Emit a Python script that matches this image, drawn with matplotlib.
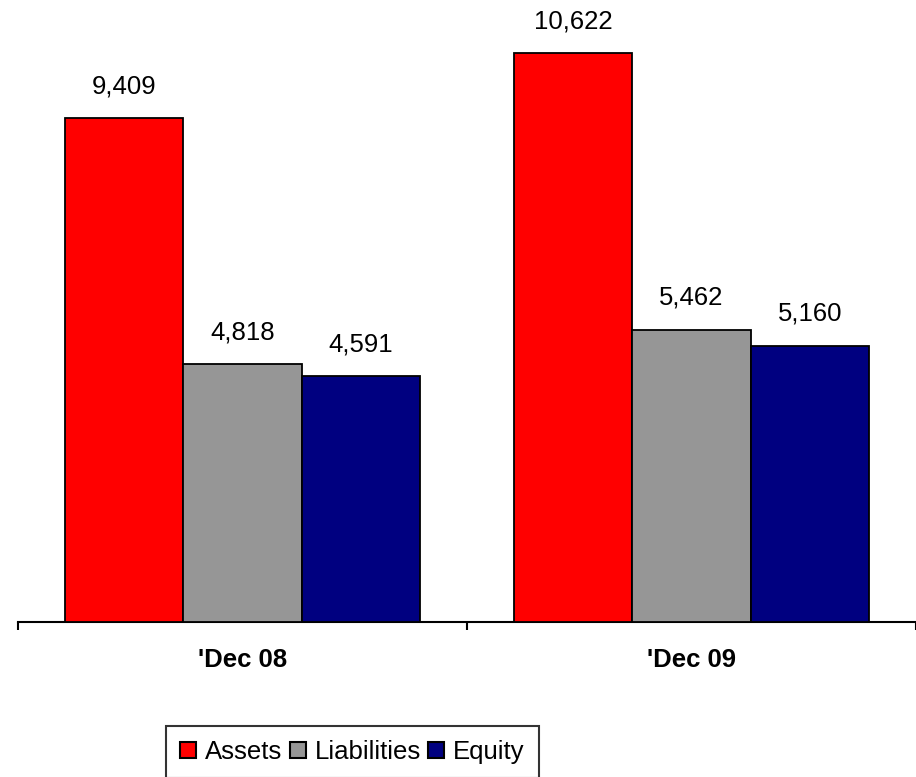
import matplotlib.pyplot as plt
from matplotlib.patches import Patch
import numpy as np

plt.rcParams['font.family'] = ['Liberation Sans', 'DejaVu Sans']

# data
periods = ["'Dec 08", "'Dec 09"]
series = ['Assets', 'Liabilities', 'Equity']
assets = [9409, 10622]
liabilities = [4818, 5462]
equity = [4591, 5160]
colors = ['#FF0000', '#969696', '#000080']

W, H = 916, 777
fig = plt.figure(figsize=(W / 100, H / 100), dpi=100)
ax = fig.add_axes([18 / W, 155 / H, 898 / W, 622 / H])

x = np.arange(len(periods))
bw = 0.264
for i, (vals, c) in enumerate(zip([assets, liabilities, equity], colors)):
    bars = ax.bar(x + (i - 1) * bw, vals, width=bw, color=c,
                  edgecolor='black', linewidth=1.3, zorder=3)
    for b, v in zip(bars, vals):
        ax.annotate(f'{v:,}', (b.get_x() + b.get_width() / 2, v),
                    xytext=(0, 18), textcoords='offset points',
                    ha='center', va='baseline', fontsize=18.5)

ax.set_xlim(-0.5, 1.5)
ax.set_ylim(0, 11617)

for s in ['top', 'right', 'left']:
    ax.spines[s].set_visible(False)
ax.spines['bottom'].set_linewidth(1.5)
ax.set_yticks([])

# ticks on category borders, labels at centers
ax.set_xticks([-0.5, 0.5, 1.5])
ax.set_xticklabels([])
ax.tick_params(axis='x', which='major', direction='out', length=6, width=1.5)
ax.set_xticks(x, minor=True)
ax.set_xticklabels(periods, minor=True, fontsize=18.5, fontweight='bold')
ax.tick_params(axis='x', which='minor', length=0, pad=19)

handles = [Patch(facecolor=c, edgecolor='black', linewidth=1.5) for c in colors]
leg = fig.legend(handles, series, loc='upper left',
                 bbox_to_anchor=(166 / W, 1 - 726 / H), ncol=3,
                 fontsize=18.5, frameon=True, fancybox=False,
                 handlelength=0.62, handleheight=0.62, handletextpad=0.34,
                 columnspacing=0.3, borderpad=0.55, borderaxespad=0)
leg.get_frame().set_edgecolor('black')
leg.get_frame().set_linewidth(1.5)

fig.savefig('out.png', dpi=100)
